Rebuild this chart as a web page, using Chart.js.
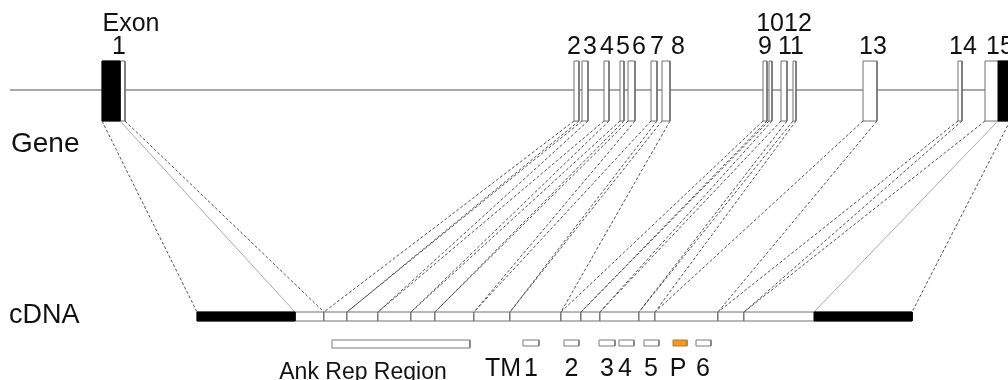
<!DOCTYPE html>
<html><head><meta charset="utf-8">
<script src="https://cdn.jsdelivr.net/npm/chart.js@4.4.1/dist/chart.umd.min.js"></script>
<style>html,body{margin:0;padding:0;background:#fff;overflow:hidden}</style>
</head><body><canvas id="c" width="1008" height="380"></canvas>
<script>
// ---- data (diagram coordinates) ----
const geneExonStart = [102,574,582,604,620,628,651,662,763,769,781,793,863,958,985];
const geneExonEnd   = [125,579,588,609,624,635,657,670,767,772,787,796,877,962,1010];
const geneCodingStart = 120;   // end of 5' UTR in exon 1
const geneCodingEnd   = 998;   // start of 3' UTR in exon 15
const cdnaBounds = [197,324,347,378,411,435,474,510,561,581,600,639,655,718,744,912];
const cdnaCodingStart = 295;
const cdnaCodingEnd   = 814;
const tmStart = [523,564,599,619,644,696];
const tmEnd   = [539,579,615,634,659,711];
const pStart = [673], pEnd = [687];
const ankStart = [332], ankEnd = [470];
const geneLine = [10,1008];
const exonLabels  = ['Exon','1','2','3','4','5','6','7','8','1012','9','11','13','14','15'];
const exonLabelX  = [131,119,574,590,607,623,639,657,678,784,765,791,873,963,1000];
const exonLabelY  = [31,54,54,54,54,54,54,54,54,31,54,54,54,54,54];
const domainLabels = ['TM','1','2','3','4','5','P','6'];
const domainLabelX = [503,531,571.5,607,625,651,678,703];

// ---- layout levels ----
const geneY = 90, exonTop = 61, exonBot = 121;
const cdnaTop = 312, cdnaBot = 321;
const domTop = 340, domBot = 346, ankTop = 340, ankBot = 348;

function rect(x0,x1,y0,y1){return [{x:x0,y:y0},{x:x1,y:y0},{x:x1,y:y1},{x:x0,y:y1},{x:x0,y:y0}];}
function shape(points, fillC, strokeC, w, dash){
  return {data:points, showLine:true, fill: fillC ? 'shape' : false,
    backgroundColor: fillC || 'transparent', borderColor: strokeC, borderWidth: w,
    borderDash: dash || [], pointRadius:0, pointHoverRadius:0, tension:0,
    borderJoinStyle:'miter', borderCapStyle:'butt'};
}

const ds = []; // bottom to top
// gene backbone
ds.push(shape([{x:geneLine[0],y:geneY},{x:geneLine[1],y:geneY}], null, '#505050', 1));
// connectors
const n = geneExonStart.length;
for (let i=0;i<n;i++){
  ds.push(shape([{x:geneExonStart[i],y:exonBot},{x:cdnaBounds[i],y:cdnaTop}], null, '#505050', 1, [3,2]));
  ds.push(shape([{x:geneExonEnd[i],y:exonBot},{x:cdnaBounds[i+1],y:cdnaTop}], null, '#505050', 1, [3,2]));
}
ds.push(shape([{x:geneCodingStart,y:exonBot},{x:cdnaCodingStart,y:cdnaTop}], null, '#a8a8a8', 1));
ds.push(shape([{x:geneCodingEnd,y:exonBot},{x:cdnaCodingEnd,y:cdnaTop}], null, '#a8a8a8', 1));
// gene exons
for (let i=0;i<n;i++){
  ds.push(shape(rect(geneExonStart[i],geneExonEnd[i],exonTop,exonBot), '#ffffff', '#707070', 1));
}
ds.push(shape(rect(geneExonStart[0],geneCodingStart,exonTop,exonBot), '#000000', '#000000', 1));
ds.push(shape(rect(geneCodingEnd,geneExonEnd[n-1],exonTop,exonBot), '#000000', '#000000', 1));
// cDNA exons
for (let i=0;i<cdnaBounds.length-1;i++){
  ds.push(shape(rect(cdnaBounds[i],cdnaBounds[i+1],cdnaTop,cdnaBot), '#ffffff', '#707070', 1));
}
ds.push(shape(rect(cdnaBounds[0],cdnaCodingStart,cdnaTop,cdnaBot), '#000000', '#000000', 1));
ds.push(shape(rect(cdnaCodingEnd,cdnaBounds[cdnaBounds.length-1],cdnaTop,cdnaBot), '#000000', '#000000', 1));
// domains
ds.push(shape(rect(ankStart[0],ankEnd[0],ankTop,ankBot), '#ffffff', '#7a7a7a', 1));
for (let i=0;i<tmStart.length;i++){
  const d = shape(rect(tmStart[i],tmEnd[i],domTop,domBot), '#ffffff', '#7a7a7a', 1); d.borderJoinStyle='round'; ds.push(d);
}
{ const d = shape(rect(pStart[0],pEnd[0],domTop,domBot), '#f39a1c', '#b57a30', 1); d.borderJoinStyle='round'; ds.push(d); }
ds.reverse();

const textPlugin = {
  id:'texts',
  afterDatasetsDraw(chart){
    const ctx = chart.ctx, xs = chart.scales.x, ys = chart.scales.y;
    ctx.save();
    ctx.fillStyle = '#111';
    ctx.textBaseline = 'alphabetic';
    ctx.textAlign = 'center';
    ctx.font = '25px "Liberation Sans", Arial, sans-serif';
    exonLabels.forEach((t,i)=>ctx.fillText(t, xs.getPixelForValue(exonLabelX[i]), ys.getPixelForValue(exonLabelY[i])));
    domainLabels.forEach((t,i)=>ctx.fillText(t, xs.getPixelForValue(domainLabelX[i]), ys.getPixelForValue(376)));
    ctx.font = '23px "Liberation Sans", Arial, sans-serif';
    ctx.fillText('Ank Rep Region', xs.getPixelForValue(363), ys.getPixelForValue(379));
    ctx.textAlign = 'left';
    ctx.font = '28px "Liberation Sans", Arial, sans-serif';
    ctx.fillText('Gene', xs.getPixelForValue(11), ys.getPixelForValue(152));
    ctx.font = '27px "Liberation Sans", Arial, sans-serif';
    ctx.fillText('cDNA', xs.getPixelForValue(9), ys.getPixelForValue(323));
    ctx.restore();
  }
};

new Chart(document.getElementById('c'), {
  type:'scatter',
  data:{datasets:ds},
  options:{
    responsive:false, animation:false, events:[],
    layout:{padding:0},
    plugins:{legend:{display:false}, tooltip:{enabled:false}},
    scales:{
      x:{type:'linear', min:0, max:1008, display:false},
      y:{type:'linear', min:0, max:380, reverse:true, display:false}
    }
  },
  plugins:[textPlugin]
});
</script></body></html>
